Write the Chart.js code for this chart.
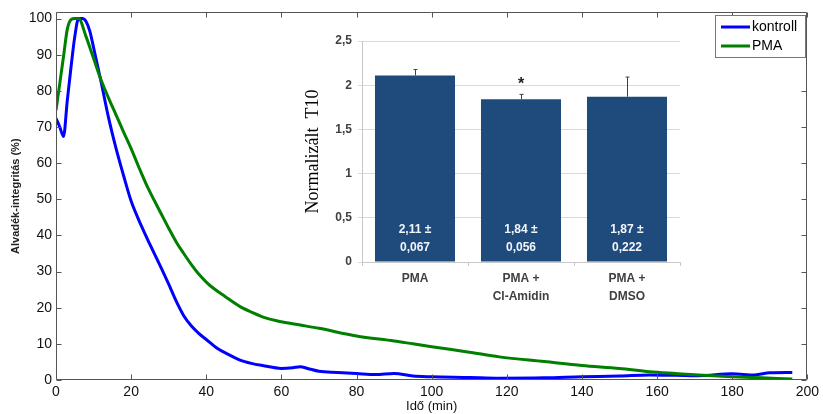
<!DOCTYPE html>
<html>
<head>
<meta charset="utf-8">
<script src="https://cdn.jsdelivr.net/npm/chart.js@4.4.1/dist/chart.umd.min.js"></script>
<style>
  html, body { margin: 0; padding: 0; background: #fff; }
  #wrap { position: relative; width: 823px; height: 414px; }
  #main { position: absolute; left: 0; top: 0; }
  #inset { position: absolute; left: 290px; top: 20px; background: #fff; }
</style>
</head>
<body>
<div id="wrap">
  <canvas id="main" width="823" height="414"></canvas>
  <canvas id="inset" width="410" height="295"></canvas>
</div>
<script>
// fő görbék (idő, alvadék-integritás %)
const kontrollT = [0, 1, 2, 3, 4, 5, 6, 7, 8, 9, 10, 12, 14, 16, 18, 20, 23, 25, 28, 30, 32, 34, 36, 38, 40, 43, 46, 49, 52, 55, 60, 63, 65, 67, 70, 75, 80, 85, 90, 95, 100, 110, 118, 130, 140, 150, 158, 165, 171, 180, 186, 190, 196];
const kontrollV = [72.4, 70, 67.4, 77.3, 86.6, 95, 100, 100, 99.2, 96.5, 92, 82.5, 72.5, 64, 56.5, 49.5, 42, 37.5, 31, 26.5, 21.8, 17.8, 15, 12.9, 11.2, 8.7, 7, 5.5, 4.6, 4, 3.2, 3.4, 3.7, 3.2, 2.4, 2.1, 1.8, 1.5, 1.8, 1.1, 0.9, 0.7, 0.5, 0.6, 0.9, 1.1, 1.4, 1.3, 1.2, 1.7, 1.4, 2, 2.1];
const pmaT = [0, 1, 2, 3, 4, 5, 6, 8, 10, 12, 14, 16, 18, 20, 22, 24, 26, 28, 30, 32, 34, 36, 38, 40, 42, 45, 49, 52, 56, 60, 65, 70, 80, 90, 95, 100, 110, 118, 130, 140, 150, 158, 165, 171, 180, 188, 196];
const pmaV = [74.6, 82, 89.5, 97, 99.7, 100, 100, 95, 89, 83, 78, 73.3, 68.6, 64, 59, 54.2, 50, 46, 42, 38.2, 35, 32, 29.3, 27.1, 25.3, 23.1, 20.3, 18.8, 17.1, 16.1, 15.2, 14.3, 12.2, 10.8, 10, 9.2, 7.7, 6.4, 5.1, 4, 3.2, 2.3, 1.8, 1.4, 0.9, 0.6, 0.3];
const xTicks = [0, 20, 40, 60, 80, 100, 120, 140, 160, 180, 200];
const yTicks = [0, 10, 20, 30, 40, 50, 60, 70, 80, 90, 100];

// beágyazott oszlopdiagram (Normalizált T10)
const groupLabels = [["PMA"], ["PMA +", "Cl-Amidin"], ["PMA +", "DMSO"]];
const t10Mean = [2.11, 1.84, 1.87];
const t10Sd = [0.067, 0.056, 0.222];
const t10Text = [["2,11 ±", "0,067"], ["1,84 ±", "0,056"], ["1,87 ±", "0,222"]];
const t10Star = [false, true, false];

Chart.defaults.font.family = "'Liberation Sans', Arial, sans-serif";

const toPoints = (ts, vs) => ts.map((t, i) => ({ x: t, y: vs[i] }));

// matlab-szerű keret, befelé álló osztásokkal
const frameTicks = {
  id: "frameTicks",
  afterDatasetsDraw(chart) {
    const { ctx, chartArea: a, scales: { x, y } } = chart;
    const L = Math.round(a.left) + 0.5, R = Math.round(a.right) - 0.5;
    const T = Math.round(a.top) + 0.5, B = Math.round(a.bottom) - 0.5;
    ctx.save();
    ctx.strokeStyle = "#555";
    ctx.lineWidth = 1;
    ctx.beginPath();
    ctx.rect(L, T, R - L, B - T);
    xTicks.forEach(v => {
      const px = Math.round(x.getPixelForValue(v)) + 0.5;
      ctx.moveTo(px, B); ctx.lineTo(px, B - 5);
      ctx.moveTo(px, T); ctx.lineTo(px, T + 5);
    });
    yTicks.forEach(v => {
      const py = Math.round(y.getPixelForValue(v)) + 0.5;
      ctx.moveTo(L, py); ctx.lineTo(L + 5, py);
      ctx.moveTo(R, py); ctx.lineTo(R - 5, py);
    });
    ctx.stroke();
    ctx.restore();
  }
};

// jelmagyarázat a jobb felső sarokban
const boxLegend = {
  id: "boxLegend",
  afterDraw(chart) {
    const ctx = chart.ctx;
    ctx.save();
    ctx.fillStyle = "#fff";
    ctx.fillRect(715, 15, 90, 42);
    ctx.strokeStyle = "#777";
    ctx.lineWidth = 1;
    ctx.strokeRect(715.5, 15.5, 90, 42);
    ctx.font = "14px 'Liberation Sans', Arial, sans-serif";
    ctx.textBaseline = "middle";
    chart.data.datasets.forEach((ds, i) => {
      const yy = 27 + i * 19;
      ctx.strokeStyle = ds.borderColor;
      ctx.lineWidth = 3;
      ctx.beginPath();
      ctx.moveTo(721, yy); ctx.lineTo(750, yy);
      ctx.stroke();
      ctx.fillStyle = "#000";
      ctx.fillText(ds.label, 752, yy);
    });
    ctx.restore();
  }
};

new Chart(document.getElementById("main"), {
  type: "line",
  data: {
    datasets: [
      {
        label: "kontroll",
        data: toPoints(kontrollT, kontrollV),
        borderColor: "#0000ff",
        borderWidth: 3,
        pointRadius: 0,
        cubicInterpolationMode: "monotone",
        order: 1
      },
      {
        label: "PMA",
        data: toPoints(pmaT, pmaV),
        borderColor: "#007f00",
        borderWidth: 3,
        pointRadius: 0,
        cubicInterpolationMode: "monotone",
        order: 0
      }
    ]
  },
  options: {
    responsive: false,
    animation: false,
    layout: { padding: { top: 12, right: 15, left: 0, bottom: 0 } },
    plugins: { legend: { display: false }, tooltip: { enabled: false } },
    scales: {
      x: {
        type: "linear",
        min: 0,
        max: 200,
        afterBuildTicks: s => { s.ticks = xTicks.map(v => ({ value: v })); },
        afterFit: s => { s.height = 34; },
        grid: { display: false, drawTicks: false },
        border: { display: false },
        ticks: { font: { size: 14 }, color: "#111", padding: 4, maxRotation: 0, autoSkip: false },
        title: { display: true, text: "Idő (min)", font: { size: 13 }, color: "#111", padding: { top: 0, bottom: 0 } }
      },
      y: {
        min: 0,
        max: 101.7,
        afterBuildTicks: s => { s.ticks = yTicks.map(v => ({ value: v })); },
        afterFit: s => { s.width = 56; },
        grid: { display: false, drawTicks: false },
        border: { display: false },
        ticks: { font: { size: 14 }, color: "#111", padding: 4 },
        title: { display: true, text: "Alvadék-integritás (%)", font: { size: 11, weight: "bold" }, color: "#222", padding: { top: 9, bottom: 0 } }
      }
    }
  },
  plugins: [frameTicks, boxLegend]
});

// hibasávok, értékek és csillag az oszlopokon
const barExtras = {
  id: "barExtras",
  afterDatasetsDraw(chart) {
    const { ctx, scales: { y } } = chart;
    const bars = chart.getDatasetMeta(0).data;
    const y0 = y.getPixelForValue(0);
    ctx.save();
    bars.forEach((bar, i) => {
      const top = y.getPixelForValue(t10Mean[i] + t10Sd[i]);
      const cx = Math.round(bar.x) + 0.5;
      ctx.strokeStyle = "#404040";
      ctx.lineWidth = 1;
      ctx.beginPath();
      ctx.moveTo(cx, bar.y);
      ctx.lineTo(cx, top);
      ctx.moveTo(cx - 2, top);
      ctx.lineTo(cx + 2, top);
      ctx.stroke();

      ctx.fillStyle = "#f2f5fa";
      ctx.font = "bold 12px 'Liberation Sans', Arial, sans-serif";
      ctx.textAlign = "center";
      ctx.textBaseline = "middle";
      ctx.fillText(t10Text[i][0], bar.x, y0 - 32);
      ctx.fillText(t10Text[i][1], bar.x, y0 - 14);

      if (t10Star[i]) {
        ctx.fillStyle = "#222";
        ctx.font = "bold 16px 'Liberation Sans', Arial, sans-serif";
        ctx.fillText("*", bar.x, top - 10);
      }
    });
    ctx.restore();
  }
};

new Chart(document.getElementById("inset"), {
  type: "bar",
  data: {
    labels: groupLabels,
    datasets: [{
      data: t10Mean,
      backgroundColor: "#1f4a7c",
      barPercentage: 0.755,
      categoryPercentage: 1
    }]
  },
  options: {
    responsive: false,
    animation: false,
    layout: { padding: { top: 21, right: 20, left: 0, bottom: 0 } },
    plugins: { legend: { display: false }, tooltip: { enabled: false } },
    scales: {
      x: {
        afterFit: s => { s.height = 53; },
        grid: { drawOnChartArea: false, offset: true, tickLength: 4, color: "#c8c8c8" },
        border: { color: "#c8c8c8" },
        ticks: { font: { size: 12, weight: "bold", lineHeight: 1.55 }, color: "#404040", padding: 3 }
      },
      y: {
        min: 0,
        max: 2.5,
        afterFit: s => { s.width = 72; },
        grid: { color: "#dadada", tickLength: 4 },
        border: { color: "#c8c8c8" },
        ticks: {
          stepSize: 0.5,
          font: { size: 12, weight: "bold" },
          color: "#404040",
          padding: 6,
          callback: v => String(v).replace(".", ",")
        },
        title: {
          display: true,
          text: "Normalizált  T10",
          font: { family: "'Liberation Serif', 'Times New Roman', serif", size: 18 },
          color: "#000",
          padding: { top: 12, bottom: 0 }
        }
      }
    }
  },
  plugins: [barExtras]
});
</script>
</body>
</html>
